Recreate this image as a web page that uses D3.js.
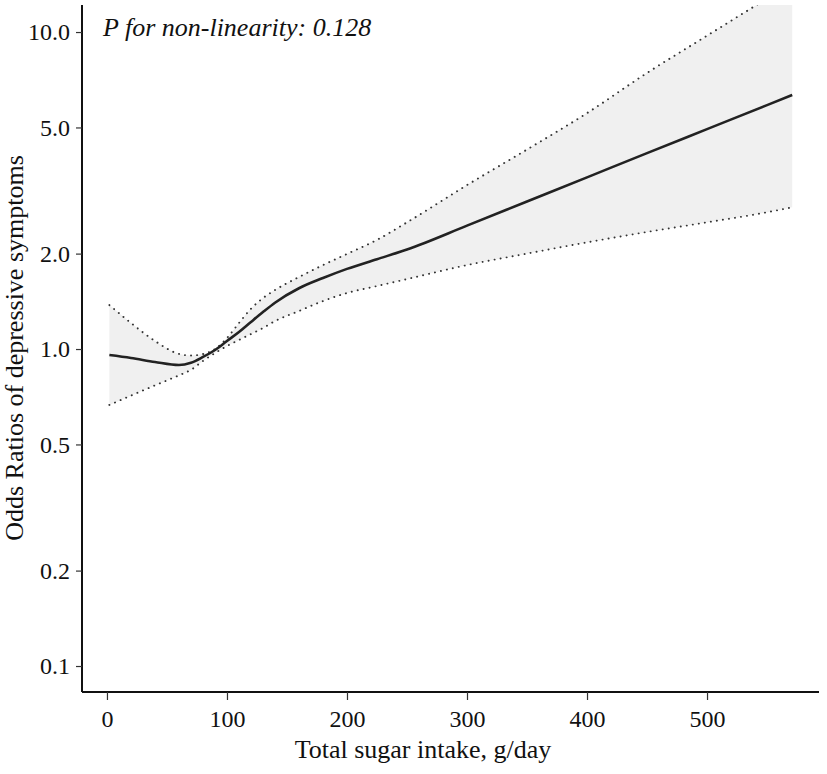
<!DOCTYPE html>
<html>
<head>
<meta charset="utf-8">
<script src="https://cdn.jsdelivr.net/npm/d3@7"></script>
<style>
  html, body { margin: 0; padding: 0; background: #fff; }
  svg { display: block; }
  text { font-family: "Liberation Serif", "Times New Roman", serif; fill: #111; }
</style>
</head>
<body>
<svg id="chart" width="827" height="774"></svg>
<script>
// Data (sugar intake g/day, odds ratios)
const sugar =      [2,     20,    40,    60,    70,    80,    90,    100,   110,   120,   130,   140,   160,   180,   200,   225,   250,   300,   350,   400,   450,   500,   550,   571];
const orEstimate = [0.957, 0.937, 0.910, 0.890, 0.905, 0.944, 0.993, 1.06,  1.131, 1.217, 1.308, 1.400, 1.555, 1.675, 1.790, 1.920, 2.060, 2.450, 2.920, 3.480, 4.150, 4.940, 5.880, 6.330];
const orUpper =    [1.376, 1.208, 1.060, 0.965, 0.954, 0.964, 1.000, 1.083, 1.208, 1.340, 1.448, 1.535, 1.687, 1.840, 1.995, 2.210, 2.510, 3.290, 4.260, 5.550, 7.430, 9.740, 12.76, 14.30];
const orLower =    [0.666, 0.713, 0.768, 0.826, 0.860, 0.917, 0.971, 1.022, 1.068, 1.115, 1.165, 1.225, 1.318, 1.417, 1.502, 1.580, 1.662, 1.840, 2.000, 2.170, 2.340, 2.510, 2.700, 2.800];
const xTicks = [0, 100, 200, 300, 400, 500];
const yTicks = [0.1, 0.2, 0.5, 1.0, 2.0, 5.0, 10.0];
const xLabel = "Total sugar intake, g/day";
const yLabel = "Odds Ratios of depressive symptoms";
const note = "P for non-linearity: 0.128";

const rows = sugar.map((s, i) => ({ x: s, est: orEstimate[i], lo: orLower[i], hi: orUpper[i] }));

const svg = d3.select("#chart");
const mLeft = 82, mRight = 819, mTop = 5, mBottom = 692;

const x = d3.scaleLinear().domain([-20.8, 593.3]).range([mLeft, mRight]);
const y = d3.scaleLog().domain([0.0828, 12.17]).range([mBottom, mTop]);

svg.append("defs").append("clipPath").attr("id", "plotclip")
  .append("rect").attr("x", mLeft).attr("y", mTop).attr("width", mRight - mLeft).attr("height", mBottom - mTop);

const plot = svg.append("g").attr("clip-path", "url(#plotclip)");

const curve = d3.curveMonotoneX;

plot.append("path")
  .datum(rows)
  .attr("fill", "#f0f0f0")
  .attr("d", d3.area().x(d => x(d.x)).y0(d => y(d.lo)).y1(d => y(d.hi)).curve(curve));

["lo", "hi"].forEach(k => {
  plot.append("path")
    .datum(rows)
    .attr("fill", "none")
    .attr("stroke", "#333")
    .attr("stroke-width", 1.9)
    .attr("stroke-linecap", "round")
    .attr("stroke-dasharray", "0.1,6")
    .attr("d", d3.line().x(d => x(d.x)).y(d => y(d[k])).curve(curve));
});

plot.append("path")
  .datum(rows)
  .attr("fill", "none")
  .attr("stroke", "#222")
  .attr("stroke-width", 2.6)
  .attr("d", d3.line().x(d => x(d.x)).y(d => y(d.est)).curve(curve));

// Axes
const yAxis = svg.append("g").attr("transform", `translate(${mLeft},0)`)
  .call(d3.axisLeft(y).tickValues(yTicks).tickFormat(d3.format(".1f")).tickSize(6).tickSizeOuter(0).tickPadding(6));
const xAxis = svg.append("g").attr("transform", `translate(0,${mBottom})`)
  .call(d3.axisBottom(x).tickValues(xTicks).tickFormat(d3.format("d")).tickSize(8).tickSizeOuter(0).tickPadding(10));

[yAxis, xAxis].forEach(g => {
  g.select(".domain").attr("stroke", "#111").attr("stroke-width", 2);
  g.selectAll(".tick line").attr("stroke", "#333").attr("stroke-width", 1.2);
  g.selectAll(".tick text").attr("font-family", "Liberation Serif, serif").attr("font-size", 24).attr("fill", "#111");
});
yAxis.select(".domain").attr("d", `M0,${mTop}V${mBottom}`);
xAxis.select(".domain").attr("d", `M${mLeft},0H${mRight}`);

svg.append("text")
  .attr("x", 423).attr("y", 758)
  .attr("text-anchor", "middle")
  .attr("font-size", 26)
  .text(xLabel);

svg.append("text")
  .attr("transform", "translate(23,348) rotate(-90)")
  .attr("text-anchor", "middle")
  .attr("font-size", 26)
  .text(yLabel);

svg.append("text")
  .attr("x", 103).attr("y", 36)
  .attr("font-size", 26)
  .attr("font-style", "italic")
  .text(note);
</script>
</body>
</html>
